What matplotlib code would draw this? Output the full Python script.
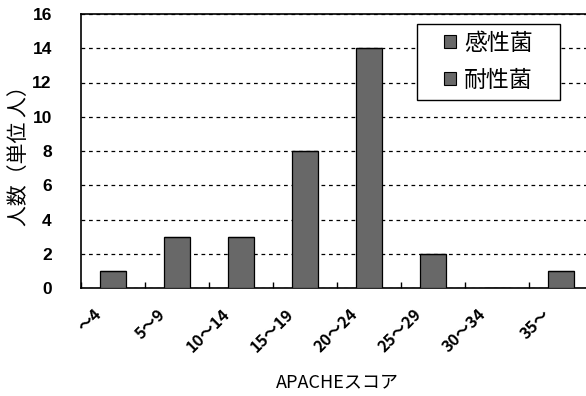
import matplotlib
matplotlib.use('Agg')
from matplotlib import pyplot as plt, patches
import numpy as np

plt.rcParams['font.family'] = ['Noto Sans CJK JP', 'DejaVu Sans']

# Data
categories = ['〜4', '5〜9', '10〜14', '15〜19', '20〜24', '25〜29', '30〜34', '35〜']
susceptible = [1, 3, 3, 8, 14, 2, 0, 1]
resistant = [0, 0, 0, 0, 0, 0, 0, 0]
series_names = ['感性菌', '耐性菌']
y_ticks = [0, 2, 4, 6, 8, 10, 12, 14, 16]

fig = plt.figure(figsize=(5.86, 3.96), dpi=100)
# axes run a little past the right edge, like the scanned original
ax = fig.add_axes([81 / 586, 1 - 288 / 396, 512 / 586, 274 / 396])

bar_color = '#686868'
x = np.arange(len(categories))
ax.bar(x, susceptible, width=0.42, color=bar_color, edgecolor='black', linewidth=0.9, zorder=3)
ax.bar(x, resistant, bottom=susceptible, width=0.42, color=bar_color,
       edgecolor='black', linewidth=0.9, zorder=3)

ax.set_xlim(-0.5, len(categories) - 0.5)
ax.set_ylim(0, 16)
ax.set_yticks(y_ticks)
ax.yaxis.grid(True, linestyle=(0, (3, 3)), color='black', linewidth=0.9)
ax.set_axisbelow(True)

# category boundaries carry the ticks
ax.set_xticks(np.arange(len(categories) + 1) - 0.5)
ax.set_xticklabels([])
ax.tick_params(axis='x', direction='in', length=4, width=1)
ax.tick_params(axis='y', length=0, pad=21)
for lab in ax.get_yticklabels():
    lab.set_fontweight('bold')
    lab.set_family(['Liberation Sans'])
    lab.set_fontsize(12.5)

for i, c in enumerate(categories):
    ax.annotate(c, xy=(i, 0), xycoords=('data', 'axes fraction'),
                xytext=(-14, -13), textcoords='offset points',
                rotation=45, ha='right', va='top', rotation_mode='anchor',
                fontsize=11.5, fontweight='bold')

for s in ax.spines.values():
    s.set_linewidth(1.2)
ax.spines['right'].set_visible(False)

ax.set_xlabel('APACHEスコア', fontsize=13, labelpad=58)
ax.set_ylabel('人数（単位 人）', fontsize=15, va='center')
ax.yaxis.set_label_coords((19 - 81) / 512, 0.5)

# legend box drawn by hand: the original has wide side margins
box = patches.Rectangle((0.656, 0.686), 0.28, 0.278, transform=ax.transAxes,
                        facecolor='white', edgecolor='black', linewidth=1, zorder=4)
ax.add_patch(box)
handles = [patches.Patch(facecolor=bar_color, edgecolor='black', linewidth=0.8) for _ in series_names]
leg = ax.legend(handles, series_names, loc='center', bbox_to_anchor=(0.656 + 0.14, 0.686 + 0.139),
                fontsize=16.5, frameon=False,
                handlelength=0.5, handleheight=0.5, handletextpad=0.35,
                borderpad=0, labelspacing=0.6, borderaxespad=0)
leg.set_zorder(5)

fig.savefig('out.png', dpi=100)
